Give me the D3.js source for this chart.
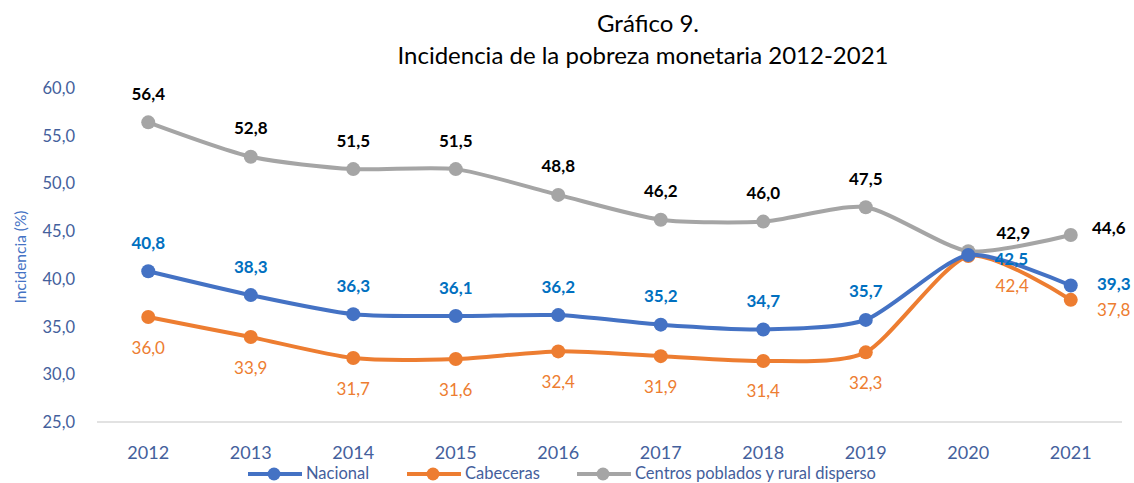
<!DOCTYPE html>
<html>
<head>
<meta charset="utf-8">
<script src="https://cdn.jsdelivr.net/npm/d3@7"></script>
<style>
  body { margin:0; background:#fff; }
  text { font-family: Lato, "Open Sans", sans-serif; }
</style>
</head>
<body>
<svg></svg>
<script>
var years = [2012,2013,2014,2015,2016,2017,2018,2019,2020,2021];
var nacional = [40.8,38.3,36.3,36.1,36.2,35.2,34.7,35.7,42.5,39.3];
var cabeceras = [36.0,33.9,31.7,31.6,32.4,31.9,31.4,32.3,42.4,37.8];
var rural = [56.4,52.8,51.5,51.5,48.8,46.2,46.0,47.5,42.9,44.6];
var yTicks = [25,30,35,40,45,50,55,60];
var seriesNames = ["Nacional","Cabeceras","Centros poblados y rural disperso"];

var svgwidth = 1134;
var svgheight = 483;
var svg = d3.select('svg').attr('width',svgwidth).attr('height',svgheight);

var margins = {top:88, bottom:61, left:97, right:12};
var width = svgwidth - margins.left - margins.right;
var height = svgheight - margins.top - margins.bottom;

var xScale = d3.scaleBand().domain(years).range([0,width]);
var yScale = d3.scaleLinear().domain([25,60]).range([height,0]);

var fmt = function(v){ return d3.format(".1f")(v).replace(".",","); };

// title
svg.append('text').attr('x',648).attr('y',22).attr('text-anchor','middle')
   .attr('dominant-baseline','central')
   .style('font-size','24px').text('Gráfico 9.');
svg.append('text').attr('x',643).attr('y',54).attr('text-anchor','middle')
   .attr('dominant-baseline','central')
   .style('font-size','24px').text('Incidencia de la pobreza monetaria 2012-2021');

var plot = svg.append('g').attr('transform','translate('+margins.left+','+margins.top+')');

// y axis labels
plot.selectAll('.ytick').data(yTicks).enter().append('text')
    .attr('x',-22).attr('y',function(d){return yScale(d);})
    .attr('dominant-baseline','central')
    .attr('text-anchor','end').style('font-size','16.5px').style('fill','#44609C')
    .text(fmt);

svg.append('text').attr('transform','translate(20,'+(margins.top+height/2+2)+') rotate(-90)')
   .attr('text-anchor','middle').attr('dominant-baseline','central')
   .style('font-size','15.5px').style('fill','#4472C4')
   .text('Incidencia (%)');

// baseline
plot.append('line').attr('x1',0).attr('x2',width).attr('y1',height).attr('y2',height)
    .style('stroke','#D9D9D9').style('stroke-width',1.5);

// x labels
plot.selectAll('.xtick').data(years).enter().append('text')
    .attr('x',function(d){return xScale(d)+xScale.bandwidth()/2;})
    .attr('y',height+30).attr('text-anchor','middle').attr('dominant-baseline','central')
    .style('font-size','18px').style('fill','#44609C')
    .text(function(d){return d;});

var cx = function(i){ return xScale(years[i])+xScale.bandwidth()/2; };

var line = d3.line()
    .x(function(d,i){return cx(i);})
    .y(function(d){return yScale(d);})
    .curve(d3.curveCardinal.tension(0.3));

var series = [
  {name:seriesNames[0], values:nacional, color:'#4472C4', label:'#0070C0', pos:'above'},
  {name:seriesNames[1], values:cabeceras, color:'#ED7D31', label:'#ED7D31', pos:'below'},
  {name:seriesNames[2], values:rural, color:'#A5A5A5', label:'#000000', pos:'above'}
];

// draw gray first, then orange, then blue
[2,1,0].forEach(function(k){
  var s = series[k];
  plot.append('path').datum(s.values).attr('d',line)
      .style('fill','none').style('stroke',s.color).style('stroke-width',4);
  plot.selectAll('.pt'+k).data(s.values).enter().append('circle')
      .attr('cx',function(d,i){return cx(i);})
      .attr('cy',function(d){return yScale(d);})
      .attr('r',7).style('fill',s.color);
});

// label offsets for the last two years (nacional, cabeceras, rural)
var offX8 = [43,44,45], offY8 = [3,30,-19];
var offX9 = [43,43,38], offY9 = [-2,10,-7];

series.forEach(function(s,k){
  plot.selectAll('.lb'+k).data(s.values).enter().append('text')
      .attr('x',function(d,i){
        if(i==8) return cx(i)+offX8[k];
        if(i==9) return cx(i)+offX9[k];
        return cx(i);
      })
      .attr('y',function(d,i){
        var y = yScale(d);
        if(i==8) return y+offY8[k];
        if(i==9) return y+offY9[k];
        return s.pos=='above' ? y-29 : y+30;
      })
      .attr('text-anchor','middle').attr('dominant-baseline','central')
      .style('font-size','17px').style('font-weight', k==1 ? 'normal' : 'bold')
      .style('fill',s.label)
      .text(fmt);
});

// legend
var legX = [248,407,577];
var legend = svg.selectAll('.leg').data(series).enter().append('g')
    .attr('transform',function(d,i){return 'translate('+legX[i]+',474)';});
legend.append('line').attr('x1',0).attr('x2',54).attr('y1',0).attr('y2',0)
    .style('stroke',function(d){return d.color;}).style('stroke-width',4);
legend.append('circle').attr('cx',26).attr('cy',0).attr('r',6.5)
    .style('fill',function(d){return d.color;});
legend.append('text').attr('x',58).attr('y',-1).attr('dominant-baseline','central')
    .style('font-size','16.5px')
    .style('fill','#44609C').text(function(d){return d.name;});
</script>
</body>
</html>
